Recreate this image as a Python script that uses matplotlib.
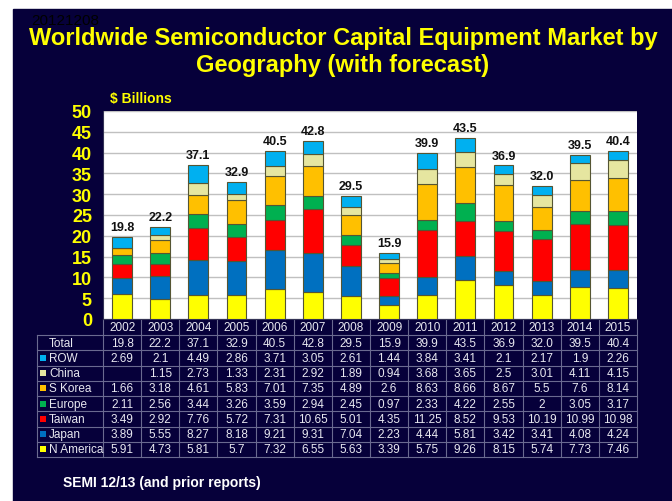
import numpy as np
import matplotlib.pyplot as plt
from matplotlib.patches import Rectangle

plt.rcParams['font.family'] = ['Liberation Sans', 'DejaVu Sans']

years = ['2002', '2003', '2004', '2005', '2006', '2007', '2008', '2009',
         '2010', '2011', '2012', '2013', '2014', '2015']
totals = ['19.8', '22.2', '37.1', '32.9', '40.5', '42.8', '29.5', '15.9',
          '39.9', '43.5', '36.9', '32.0', '39.5', '40.4']

# table rows, top to bottom (None = blank cell)
row_ = [2.69, 2.1, 4.49, 2.86, 3.71, 3.05, 2.61, 1.44, 3.84, 3.41, 2.1, 2.17, 1.9, 2.26]
china = [None, 1.15, 2.73, 1.33, 2.31, 2.92, 1.89, 0.94, 3.68, 3.65, 2.5, 3.01, 4.11, 4.15]
s_korea = [1.66, 3.18, 4.61, 5.83, 7.01, 7.35, 4.89, 2.6, 8.63, 8.66, 8.67, 5.5, 7.6, 8.14]
europe = [2.11, 2.56, 3.44, 3.26, 3.59, 2.94, 2.45, 0.97, 2.33, 4.22, 2.55, 2, 3.05, 3.17]
taiwan = [3.49, 2.92, 7.76, 5.72, 7.31, 10.65, 5.01, 4.35, 11.25, 8.52, 9.53, 10.19, 10.99, 10.98]
japan = [3.89, 5.55, 8.27, 8.18, 9.21, 9.31, 7.04, 2.23, 4.44, 5.81, 3.42, 3.41, 4.08, 4.24]
n_america = [5.91, 4.73, 5.81, 5.7, 7.32, 6.55, 5.63, 3.39, 5.75, 9.26, 8.15, 5.74, 7.73, 7.46]

regions = ['ROW', 'China', 'S Korea', 'Europe', 'Taiwan', 'Japan', 'N America']
series = [row_, china, s_korea, europe, taiwan, japan, n_america]
colors = ['#00b0f0', '#e6e6a0', '#ffc000', '#00b050', '#ff0000', '#0070c0', '#ffff00']

W, H = 672, 502
bg = '#06003a'
yellow = '#ffff00'

fig = plt.figure(figsize=(W / 100, H / 100), dpi=100, facecolor='white')
fig.patches.append(Rectangle((13 / W, 0), 1 - 13 / W, (H - 10) / H,
                             transform=fig.transFigure, color=bg, zorder=-5))

def fx(px):
    return px / W

def fy(py):
    return 1 - py / H

x_l, x_r, y_t, y_b = 103, 637, 112, 320
ax = fig.add_axes([fx(x_l), fy(y_b), fx(x_r - x_l), (y_b - y_t) / H])
ax.set_facecolor('white')
ax.set_zorder(2)

x = np.arange(len(years))
bottom = np.zeros(len(years))
# stack from bottom (N America) to top (ROW)
for name, vals, c in zip(regions[::-1], series[::-1], colors[::-1]):
    v = np.array([0 if a is None else a for a in vals])
    ax.bar(x, v, 0.52, bottom=bottom, color=c, edgecolor='#555533',
           linewidth=0.8, zorder=3)
    bottom += v

for i, t in enumerate(totals):
    ax.text(x[i], bottom[i] + 0.9, t, ha='center', va='bottom',
            fontsize=9, fontweight='bold', color='#111111')

ax.set_xlim(-0.5, len(years) - 0.5)
ax.set_ylim(0, 50)
ax.set_yticks(range(0, 51, 5))
ax.yaxis.grid(True, color='#c0c0c0', linewidth=1, zorder=0)
ax.set_axisbelow(True)
ax.set_xticks([])
ax.tick_params(axis='y', length=0, pad=8, labelsize=13, labelcolor=yellow)
for lab in ax.get_yticklabels():
    lab.set_fontweight('bold')
for s in ['top', 'right']:
    ax.spines[s].set_visible(False)
ax.spines['left'].set_color('#333355')
ax.spines['bottom'].set_color('#333355')

# table under the chart
line_c = '#6a6a90'
lab_l = 37
colw = (x_r - x_l) / len(years)
head_b = 336
row_h = (458 - head_b) / 8
row_tops = [head_b + k * row_h for k in range(9)]

def hline(py, x0, x1):
    fig.add_artist(plt.Line2D([fx(x0), fx(x1)], [fy(py), fy(py)],
                              color=line_c, linewidth=0.8))

def vline(px, y0, y1):
    fig.add_artist(plt.Line2D([fx(px), fx(px)], [fy(y0), fy(y1)],
                              color=line_c, linewidth=0.8))

hline(head_b, lab_l, x_r)
for py in row_tops[1:]:
    hline(py, lab_l, x_r)
for k in range(len(years) + 1):
    vline(x_l + k * colw, y_b, row_tops[-1])
vline(lab_l, head_b, row_tops[-1])

txt_c = '#e8e8f0'
for k, yr in enumerate(years):
    fig.text(fx(x_l + (k + 0.5) * colw), fy((y_b + head_b) / 2), yr,
             ha='center', va='center', fontsize=8.5, color=txt_c)

row_labels = ['Total'] + regions
row_vals = [totals] + [[('' if a is None else f'{a:g}') for a in s] for s in series]
for r, (lab, vals) in enumerate(zip(row_labels, row_vals)):
    yc = fy(row_tops[r] + row_h / 2)
    if r > 0:
        fig.patches.append(Rectangle((fx(40), yc - 3 / H), 6 / W, 6 / H,
                                     transform=fig.transFigure,
                                     facecolor=colors[r - 1], edgecolor='none'))
    fig.text(fx(49), yc, lab, ha='left', va='center', fontsize=8.5, color=txt_c)
    for k, v in enumerate(vals):
        fig.text(fx(x_l + (k + 0.5) * colw), yc, v, ha='center', va='center',
                 fontsize=8.5, color=txt_c)

fig.text(fx(343), fy(52), 'Worldwide Semiconductor Capital Equipment Market by\nGeography (with forecast)',
         ha='center', va='center', fontsize=17, fontweight='bold', color=yellow,
         linespacing=1.25)
# date stamp overlaps the title in the original slide too
fig.text(fx(31), fy(21), '20121208', ha='left', va='center', fontsize=11,
         color='black')
fig.text(fx(110), fy(99), '$ Billions', ha='left', va='center', fontsize=10,
         fontweight='bold', color=yellow)
fig.text(fx(63), fy(483), 'SEMI 12/13 (and prior reports)', ha='left', va='center',
         fontsize=10, fontweight='bold', color='white')

fig.savefig('out.png', dpi=100, facecolor=fig.get_facecolor())
